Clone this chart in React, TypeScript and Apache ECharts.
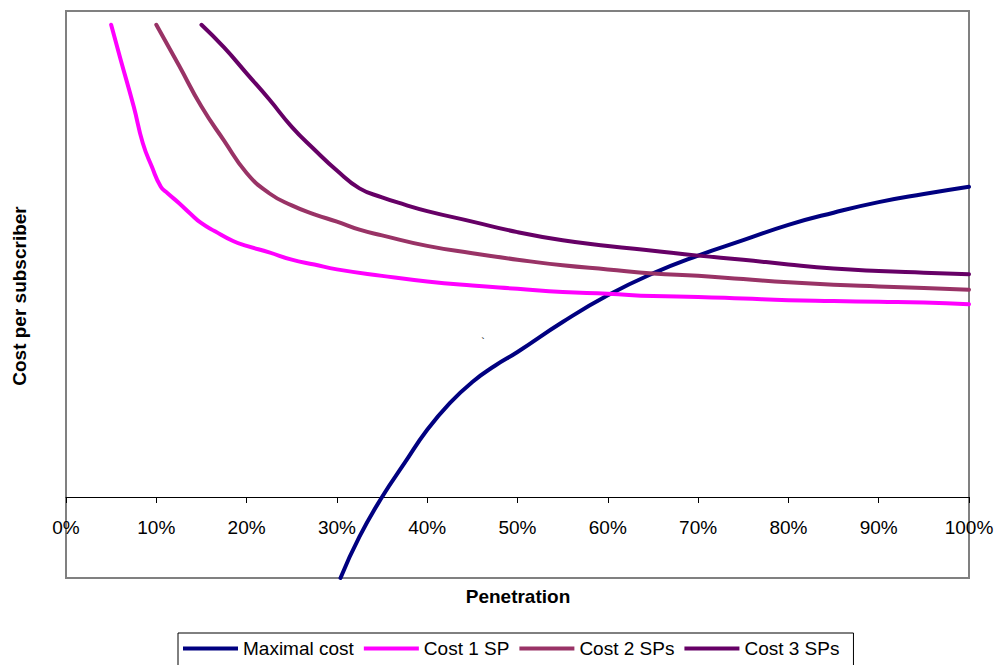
import React, { useEffect, useRef } from "react";
import * as echarts from "echarts";

// Penetration (%) sample points and cost-per-subscriber values (relative units)
const maxCostX = [30.4, 32.5, 35, 37.5, 40, 42.5, 45, 47.5, 50, 55, 60, 65, 70, 75, 80, 85, 90, 95, 100];
const maxCostY = [-1.0, -0.49, 0.0, 0.42, 0.83, 1.16, 1.42, 1.62, 1.79, 2.16, 2.49, 2.76, 2.98, 3.17, 3.36, 3.51, 3.64, 3.74, 3.83];

const cost1X = [5, 6, 7.5, 8.5, 9.5, 10.5, 11.25, 12.5, 13.75, 15, 16.5, 18.5, 20, 22.5, 25, 27.5, 30, 35, 40, 45, 50, 55, 60, 65, 70, 75, 80, 85, 90, 95, 100];
const cost1Y = [5.83, 5.42, 4.82, 4.37, 4.08, 3.83, 3.75, 3.63, 3.5, 3.38, 3.28, 3.16, 3.1, 3.02, 2.93, 2.87, 2.81, 2.73, 2.66, 2.61, 2.57, 2.53, 2.51, 2.48, 2.47, 2.45, 2.43, 2.42, 2.41, 2.4, 2.38];

const cost2X = [10, 12.5, 15, 17.5, 20, 22.5, 25, 27.5, 30, 32.5, 35, 40, 45, 50, 55, 60, 65, 70, 75, 80, 85, 90, 95, 100];
const cost2Y = [5.83, 5.33, 4.82, 4.4, 4.0, 3.75, 3.6, 3.49, 3.4, 3.3, 3.23, 3.1, 3.01, 2.93, 2.86, 2.81, 2.76, 2.73, 2.69, 2.65, 2.62, 2.6, 2.58, 2.56];

const cost3X = [15, 17.5, 20, 22.5, 25, 27.5, 30, 32.5, 35, 37.5, 40, 45, 50, 55, 60, 65, 70, 75, 80, 85, 90, 95, 100];
const cost3Y = [5.83, 5.55, 5.23, 4.91, 4.57, 4.29, 4.03, 3.81, 3.7, 3.61, 3.53, 3.4, 3.27, 3.17, 3.1, 3.04, 2.98, 2.93, 2.87, 2.82, 2.79, 2.77, 2.75];

const seriesNames = ["Maximal cost", "Cost 1 SP", "Cost 2 SPs", "Cost 3 SPs"];
const seriesColors = ["#000080", "#FF00FF", "#993366", "#660066"];
const xTicks = { min: 0, max: 100, interval: 10 };
const yRange = { min: -1, max: 6 };

const FONT = "'Liberation Sans', Arial, sans-serif";

const GRID = { left: 66, right: 32, top: 11, bottom: 87 };
const PLOT_H = 665 - GRID.top - GRID.bottom;

const zip = (xs: number[], ys: number[]) => xs.map((x, i) => [x, ys[i]]);

export default function App() {
  const ref = useRef<HTMLDivElement>(null);

  useEffect(() => {
    if (!ref.current) return;
    const chart = echarts.init(ref.current, null, { renderer: "svg" });
    const data = [
      zip(maxCostX, maxCostY),
      zip(cost1X, cost1Y),
      zip(cost2X, cost2Y),
      zip(cost3X, cost3Y),
    ];
    // The category axis sits on the zero line: lift it from the plot bottom by |min| units
    const zeroOffset = -(PLOT_H * (0 - yRange.min)) / (yRange.max - yRange.min);
    chart.setOption({
      animation: false,
      backgroundColor: "#ffffff",
      grid: {
        ...GRID,
        show: true,
        borderColor: "#808080",
        borderWidth: 2,
        backgroundColor: "transparent",
      },
      xAxis: {
        type: "value",
        min: xTicks.min,
        max: xTicks.max,
        interval: xTicks.interval,
        offset: zeroOffset,
        axisLine: { onZero: false, lineStyle: { color: "#000", width: 1 } },
        axisTick: { show: true, length: 6, lineStyle: { color: "#000" } },
        axisLabel: {
          formatter: "{value}%",
          fontSize: 19,
          color: "#000",
          fontFamily: FONT,
          margin: 21,
          showMinLabel: true,
          showMaxLabel: true,
        },
        splitLine: { show: false },
      },
      yAxis: {
        type: "value",
        min: yRange.min,
        max: yRange.max,
        axisLine: { show: false },
        axisTick: { show: false },
        axisLabel: { show: false },
        splitLine: { show: false },
      },
      legend: {
        data: seriesNames,
        left: 178,
        top: 633,
        orient: "horizontal",
        icon: "rect",
        itemWidth: 55,
        itemHeight: 4,
        itemGap: 10,
        padding: [6, 14, 14, 5],
        borderColor: "#000",
        borderWidth: 1,
        backgroundColor: "#fff",
        textStyle: { fontSize: 19, color: "#000", fontFamily: FONT },
      },
      series: seriesNames.map((name, i) => ({
        name,
        type: "line",
        data: data[i],
        smooth: 0.5,
        showSymbol: false,
        clip: true,
        color: seriesColors[i],
        lineStyle: { color: seriesColors[i], width: 4, cap: "round", join: "round" },
        itemStyle: { color: seriesColors[i] },
      })),
      graphic: [
        {
          type: "text",
          x: 518,
          y: 596,
          style: {
            text: "Penetration",
            fontSize: 19,
            fontWeight: "bold",
            fontFamily: FONT,
            fill: "#000",
            align: "center",
            verticalAlign: "middle",
          },
        },
        {
          type: "text",
          x: 19,
          y: 296,
          rotation: Math.PI / 2,
          style: {
            text: "Cost per subscriber",
            fontSize: 19,
            fontWeight: "bold",
            fontFamily: FONT,
            fill: "#000",
            align: "center",
            verticalAlign: "middle",
          },
        },
        {
          type: "text",
          x: 483,
          y: 342,
          style: {
            text: "`",
            fontSize: 11,
            fontFamily: FONT,
            fill: "#000",
            align: "center",
            verticalAlign: "middle",
          },
        },
      ],
    });
    return () => chart.dispose();
  }, []);

  return (
    <div
      ref={ref}
      style={{ position: "fixed", left: 0, top: 0, width: 1001, height: 665, background: "#fff" }}
    />
  );
}
